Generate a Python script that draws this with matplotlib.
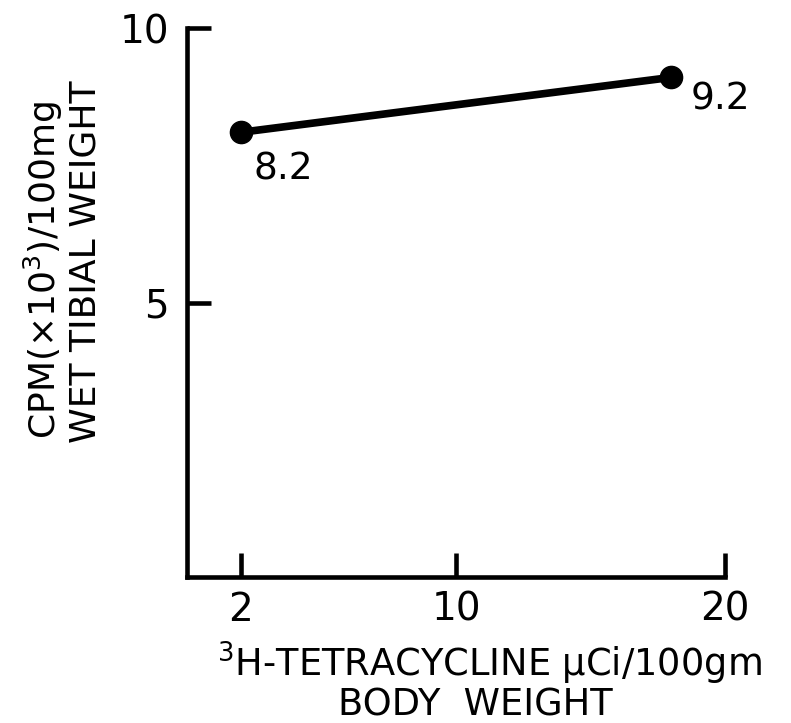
import matplotlib
matplotlib.use("Agg")
import matplotlib.pyplot as plt

# data
dose = [2, 18]
cpm = [8.1, 9.1]
point_labels = ["8.2", "9.2"]
x_ticks = [2, 10, 20]
y_ticks = [5, 10]

plt.rcParams['font.family'] = ['DejaVu Sans']

fig = plt.figure(figsize=(7.91, 7.23), dpi=100)
ax = fig.add_axes([187/791, 1-577/723, (725-187)/791, (577-28)/723])

ax.plot(dose, cpm, color='black', lw=5.5, marker='o', ms=16, solid_capstyle='round')
offsets = [(9, -14), (14, -3)]
for x, y, t, (dx, dy) in zip(dose, cpm, point_labels, offsets):
    ax.annotate(t, (x, y), xytext=(dx, dy), textcoords='offset points',
                fontsize=27, ha='left', va='top')

ax.set_xlim(0, 20)
ax.set_ylim(0, 10)
ax.set_xticks(x_ticks)
ax.set_yticks(y_ticks)
ax.set_xticklabels([str(v) for v in x_ticks])
ax.set_yticklabels([str(v) for v in y_ticks])
for s in ['top', 'right']:
    ax.spines[s].set_visible(False)
for s in ['left', 'bottom']:
    ax.spines[s].set_linewidth(3.3)
ax.tick_params(direction='in', length=17, width=3.3, labelsize=28)
ax.tick_params(axis='y', pad=13)
ax.tick_params(axis='x', pad=10)

fig.text(43/791, 1-270/723, "CPM(×10$^3$)/100mg", rotation=90, fontsize=26,
         ha='center', va='center')
fig.text(86/791, 1-262/723, "WET TIBIAL WEIGHT", rotation=90, fontsize=26,
         ha='center', va='center')
fig.text(489/791, 1-677/723, "$^3$H-TETRACYCLINE µCi/100gm", fontsize=26.5,
         ha='center', va='baseline')
fig.text(475/791, 1-716/723, "BODY  WEIGHT", fontsize=26.5,
         ha='center', va='baseline')

fig.savefig("out.png", dpi=100)
